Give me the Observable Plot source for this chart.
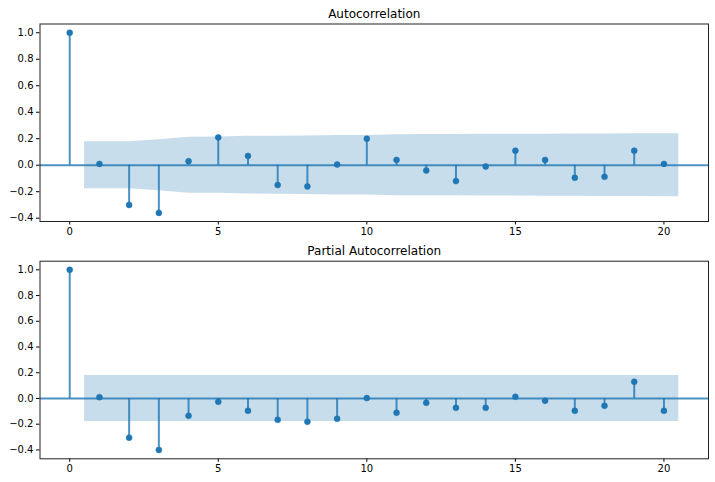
<!DOCTYPE html>
<html>
<head>
<meta charset="utf-8">
<script src="https://cdn.jsdelivr.net/npm/d3@7"></script>
<script src="https://cdn.jsdelivr.net/npm/@observablehq/plot@0.6"></script>
<style>
  html, body { margin: 0; padding: 0; background: #fff; }
  #chart svg { display: block; }
</style>
</head>
<body>
<div id="chart"></div>
<script>
const lags = [0,1,2,3,4,5,6,7,8,9,10,11,12,13,14,15,16,17,18,19,20];
const acfValues = [1.0, 0.01, -0.30, -0.36, 0.03, 0.21, 0.07, -0.15, -0.16, 0.005, 0.20, 0.04, -0.04, -0.12, -0.01, 0.11, 0.04, -0.095, -0.088, 0.11, 0.01];
const acfBand = [0.177, 0.177, 0.192, 0.211, 0.212, 0.218, 0.219, 0.221, 0.224, 0.225, 0.230, 0.231, 0.231, 0.233, 0.233, 0.234, 0.235, 0.236, 0.237, 0.238];
const pacfValues = [1.0, 0.01, -0.305, -0.40, -0.135, -0.026, -0.096, -0.166, -0.181, -0.158, 0.003, -0.111, -0.034, -0.073, -0.073, 0.013, -0.018, -0.096, -0.057, 0.130, -0.096];
const pacfBand = [0.179, 0.179, 0.179, 0.179, 0.179, 0.179, 0.179, 0.179, 0.179, 0.179, 0.179, 0.179, 0.179, 0.179, 0.179, 0.179, 0.179, 0.179, 0.179, 0.179];
const xTicks = [0, 5, 10, 15, 20];
const yTicks = [-0.4, -0.2, 0.0, 0.2, 0.4, 0.6, 0.8, 1.0];
const titles = ["Autocorrelation", "Partial Autocorrelation"];

const C0 = "#1f77b4";

function panel(title, values, bandVals, opts) {
  const data = lags.map((l, i) => ({lag: l, value: values[i]}));
  const bandLags = lags.slice(1);
  const band = bandLags.map((l, i) => ({
    x: i === 0 ? l - 0.5 : (i === bandLags.length - 1 ? l + 0.5 : l),
    hi: bandVals[i],
    lo: -bandVals[i]
  }));
  return Plot.plot({
    width: 715,
    height: 241,
    marginLeft: 39.5,
    marginRight: 7,
    marginTop: opts.marginTop,
    marginBottom: opts.marginBottom,
    style: {fontFamily: "DejaVu Sans", fontSize: "10px", color: "#000", background: "#fff"},
    x: {domain: [-1, 21.5], ticks: xTicks, tickSize: 3.5, tickPadding: 3, label: null, tickFormat: d3.format("d")},
    y: {domain: opts.yDomain, ticks: yTicks, tickSize: 3.5, tickPadding: 3, label: null, tickFormat: d3.format(".1f")},
    marks: [
      Plot.areaY(band, {x: "x", y1: "lo", y2: "hi", fill: C0, fillOpacity: 0.25}),
      Plot.ruleY([0], {stroke: C0, strokeWidth: 2, strokeOpacity: 0.8}),
      Plot.ruleX(data, {x: "lag", y1: 0, y2: "value", stroke: C0, strokeWidth: 2, strokeOpacity: 0.8}),
      Plot.dot(data, {x: "lag", y: "value", r: 3, fill: C0, stroke: C0, strokeWidth: 0.5}),
      Plot.frame({stroke: "#222", strokeWidth: 1}),
      Plot.text([title], {frameAnchor: "top", lineAnchor: "bottom", dy: -6, fontSize: 12, fill: "#000"})
    ]
  });
}

const el = document.getElementById("chart");
el.appendChild(panel(titles[0], acfValues, acfBand, {marginTop: 23.5, marginBottom: 20, yDomain: [-0.425, 1.066]}));
el.appendChild(panel(titles[1], pacfValues, pacfBand, {marginTop: 19.7, marginBottom: 23.7, yDomain: [-0.469, 1.067]}));
</script>
</body>
</html>
